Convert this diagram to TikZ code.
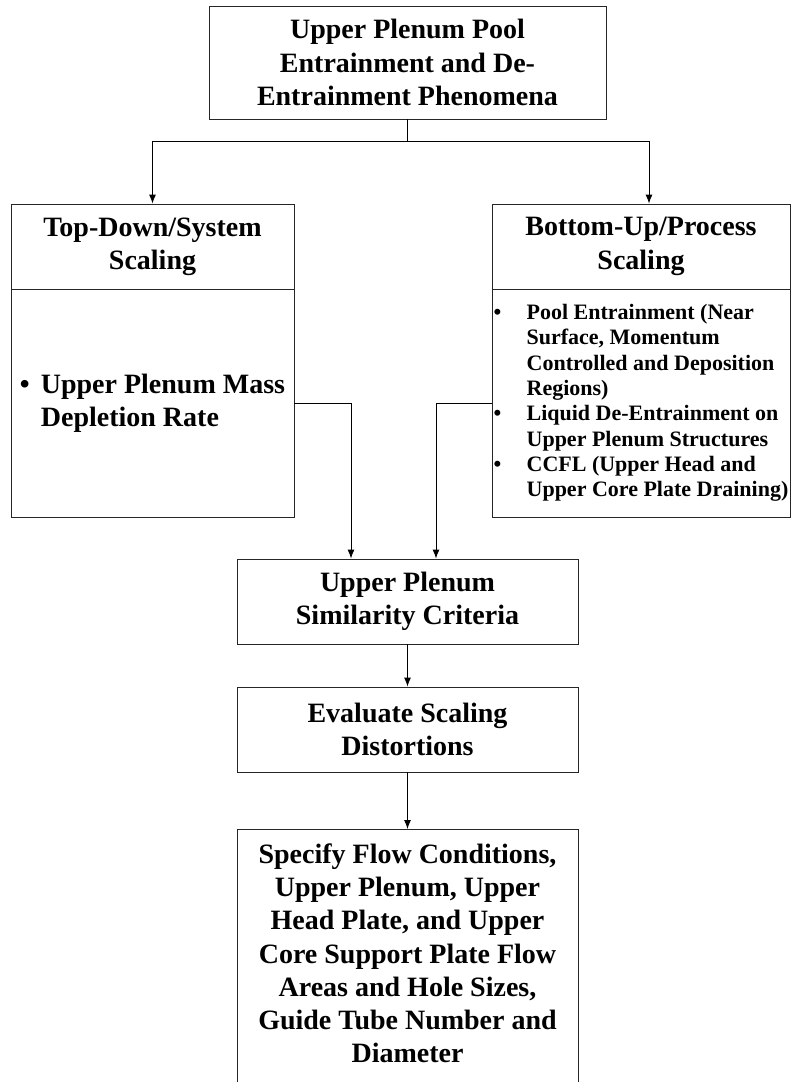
\documentclass[tikz,border=0pt]{standalone}
\usepackage{fontspec}
\setmainfont{Liberation Serif}
\usetikzlibrary{arrows.meta}
\tikzset{
  box/.style={draw=black!85, line width=0.9pt, rectangle, inner sep=0pt, align=center,
    font=\fontsize{28}{33.3}\selectfont\bfseries},
  conn/.style={draw=black, line width=0.9pt},
  arr/.style={conn, -{Latex[length=9pt,width=7pt]}},
}
\begin{document}
\begin{tikzpicture}[x=1pt,y=-1pt]
\clip (0,0) rectangle (791,1082);
\fill[white] (0,0) rectangle (791,1082);

\node[box, minimum width=397pt, minimum height=113pt] (top) at (407.5,62.5)
  {Upper Plenum Pool\\Entrainment and De-\\Entrainment Phenomena};

\node[box, minimum width=283pt, minimum height=85pt] (lhead) at (152.5,246.5)
  {Top-Down/System\\Scaling};
\node[box, minimum width=283pt, minimum height=228pt] (lbody) at (152.5,403)
  {\begin{tabular}{@{}p{21pt}@{}l@{}}\textbullet & Upper Plenum Mass\\ & Depletion Rate\end{tabular}};

\node[box, minimum width=298pt, minimum height=85pt] (rhead) at (641,246.5)
  {Bottom-Up/Process\\Scaling};
\node[box, minimum width=298pt, minimum height=228pt, font=\fontsize{22}{25.3}\selectfont\bfseries] (rbody) at (641,403)
  {\begin{tabular}{@{}p{33pt}@{}l@{}}
  \textbullet & Pool Entrainment (Near\\
   & Surface, Momentum\\
   & Controlled and Deposition\\
   & Regions)\\
  \textbullet & Liquid De-Entrainment on\\
   & Upper Plenum Structures\\
  \textbullet & CCFL (Upper Head and\\
   & Upper Core Plate Draining)
  \end{tabular}};

\node[box, minimum width=341pt, minimum height=85pt] (sim) at (407.5,601.5)
  {Upper Plenum\\Similarity Criteria};
\node[box, minimum width=341pt, minimum height=85pt] (eval) at (407.5,729.5)
  {Evaluate Scaling\\Distortions};
\node[box, minimum width=341pt, inner ysep=14pt, anchor=north] (fin) at (407.5,829)
  {Specify Flow Conditions,\\Upper Plenum, Upper\\Head Plate, and Upper\\Core Support Plate Flow\\Areas and Hole Sizes,\\Guide Tube Number and\\Diameter\rule[-40pt]{0pt}{40pt}};

\coordinate (split) at (407.5,141);
\draw[conn] (top.south) -- (split);
\draw[arr] (split) -| (lhead.north);
\draw[arr] (split) -| ([xshift=8pt]rhead.north);
\draw[arr] (lbody.east) -| ([xshift=-56.5pt]sim.north);
\draw[arr] (rbody.west) -| ([xshift=28.5pt]sim.north);
\draw[arr] (sim) -- (eval);
\draw[arr] (eval) -- (fin);
\end{tikzpicture}
\end{document}
